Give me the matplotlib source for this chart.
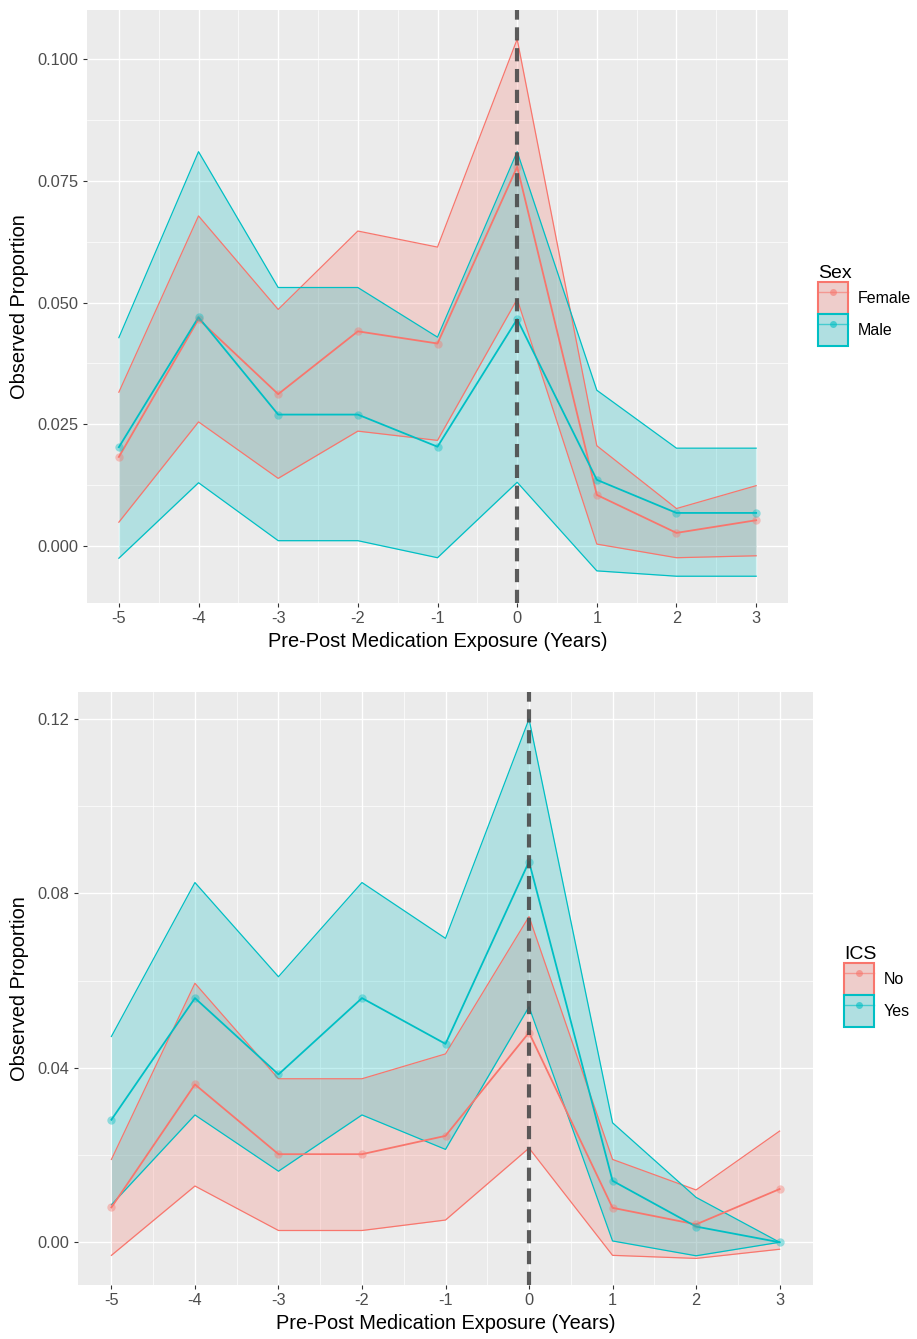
import matplotlib.pyplot as plt
from matplotlib.patches import Patch
from matplotlib.lines import Line2D
from matplotlib.legend_handler import HandlerTuple

plt.rcParams['font.family'] = ['Liberation Sans', 'DejaVu Sans']
plt.rcParams['lines.scale_dashes'] = False

years = [-5, -4, -3, -2, -1, 0, 1, 2, 3]

# top panel: Sex
female_mean = [0.0183, 0.0466, 0.0312, 0.0441, 0.0416, 0.0779, 0.0105, 0.0027, 0.0053]
female_upper = [0.0316, 0.0678, 0.0486, 0.0647, 0.0614, 0.1041, 0.0206, 0.0077, 0.0124]
female_lower = [0.0049, 0.0255, 0.0139, 0.0236, 0.0217, 0.0507, 0.0004, -0.0024, -0.0020]
male_mean = [0.0203, 0.0470, 0.0270, 0.0270, 0.0204, 0.0466, 0.0136, 0.0068, 0.0068]
male_upper = [0.0428, 0.0810, 0.0531, 0.0531, 0.0429, 0.0810, 0.0320, 0.0201, 0.0201]
male_lower = [-0.0025, 0.0130, 0.0011, 0.0011, -0.0024, 0.0131, -0.0051, -0.0062, -0.0062]

# bottom panel: ICS
no_mean = [0.0080, 0.0362, 0.0202, 0.0202, 0.0244, 0.0481, 0.0079, 0.0041, 0.0122]
no_upper = [0.0190, 0.0594, 0.0375, 0.0375, 0.0432, 0.0747, 0.0190, 0.0120, 0.0255]
no_lower = [-0.0030, 0.0129, 0.0027, 0.0027, 0.0051, 0.0216, -0.0030, -0.0037, -0.0016]
yes_mean = [0.0281, 0.0560, 0.0385, 0.0560, 0.0455, 0.0873, 0.0141, 0.0036, 0.0000]
yes_upper = [0.0472, 0.0825, 0.0609, 0.0825, 0.0697, 0.1200, 0.0274, 0.0103, 0.0000]
yes_lower = [0.0086, 0.0292, 0.0163, 0.0292, 0.0213, 0.0540, 0.0003, -0.0031, 0.0000]

RED = '#F8766D'
CYAN = '#00BFC4'
W, H = 917, 1339


def panel(ax, groups, yticks, ylabels, yminor, ylim):
    ax.set_facecolor('#EBEBEB')
    for s in ax.spines.values():
        s.set_visible(False)
    ax.set_axisbelow(True)
    # ribbons first
    for col, m, lo, up in groups:
        ax.fill_between(years, lo, up, color=col, alpha=0.24, lw=0)
        ax.plot(years, up, color=col, lw=0.9)
        ax.plot(years, lo, color=col, lw=0.9)
    for col, m, lo, up in groups:
        ax.plot(years, m, color=col, lw=1.3)
    for col, m, lo, up in groups:
        ax.plot(years, m, 'o', color=col, ms=6, alpha=0.4, mec='none')
    ax.axvline(0, color='#4a4a4a', lw=3, dashes=(9.5, 5.5), alpha=0.9)
    ax.set_xlim(-5.4, 3.4)
    ax.set_ylim(*ylim)
    ax.set_xticks(years)
    ax.set_xticklabels([str(y) for y in years])
    ax.set_xticks([y + 0.5 for y in years[:-1]], minor=True)
    ax.set_yticks(yticks)
    ax.set_yticklabels(ylabels)
    ax.set_yticks(yminor, minor=True)
    ax.grid(which='major', color='white', lw=1.0)
    ax.grid(which='minor', color='white', lw=0.5)
    ax.tick_params(which='major', length=3, width=0.8, color='#333333',
                   labelcolor='#4D4D4D', labelsize=11.8, pad=3)
    ax.tick_params(which='minor', length=0)
    ax.set_xlabel('Pre-Post Medication Exposure (Years)', fontsize=14.4, labelpad=4)
    ax.set_ylabel('Observed Proportion', fontsize=14.4, labelpad=6)


def legend(fig, title, names, cols, x, y):
    handles = []
    for c in cols:
        bg = Patch(facecolor='#EBEBEB', edgecolor='none')
        p = Patch(facecolor=c, alpha=0.25, edgecolor='none')
        p2 = Patch(facecolor='none', edgecolor=c, lw=1.5)
        l = Line2D([], [], color=c, lw=1.0, marker='o', ms=5, markerfacecolor=c,
                   markeredgecolor='none', alpha=0.6)
        handles.append((bg, p, p2, l))
    fig.legend(handles, names, title=title, loc='upper left',
               bbox_to_anchor=(x / W, 1 - y / H), frameon=False,
               handler_map={tuple: HandlerTuple(ndivide=1, pad=0)},
               handlelength=1.9, handleheight=2.7, labelspacing=0.0,
               handletextpad=0.6, fontsize=11.5, title_fontsize=14,
               alignment='left', borderaxespad=0, borderpad=0)


fig = plt.figure(figsize=(W / 100, H / 100), dpi=100)
ax1 = fig.add_axes([87 / W, 1 - 603 / H, (788 - 87) / W, (603 - 10) / H])
ax2 = fig.add_axes([78 / W, 1 - 1285 / H, (813 - 78) / W, (1285 - 692) / H])

panel(ax1, [(RED, female_mean, female_lower, female_upper),
            (CYAN, male_mean, male_lower, male_upper)],
      [0.0, 0.025, 0.05, 0.075, 0.1],
      ['0.000', '0.025', '0.050', '0.075', '0.100'],
      [0.0125, 0.0375, 0.0625, 0.0875], (-0.0117, 0.1101))
panel(ax2, [(RED, no_mean, no_lower, no_upper),
            (CYAN, yes_mean, yes_lower, yes_upper)],
      [0.0, 0.04, 0.08, 0.12], ['0.00', '0.04', '0.08', '0.12'],
      [0.02, 0.06, 0.10], (-0.0098, 0.1262))

legend(fig, 'Sex', ['Female', 'Male'], [RED, CYAN], 818, 265)
legend(fig, 'ICS', ['No', 'Yes'], [RED, CYAN], 844, 946)

fig.savefig('out.png', dpi=100)
